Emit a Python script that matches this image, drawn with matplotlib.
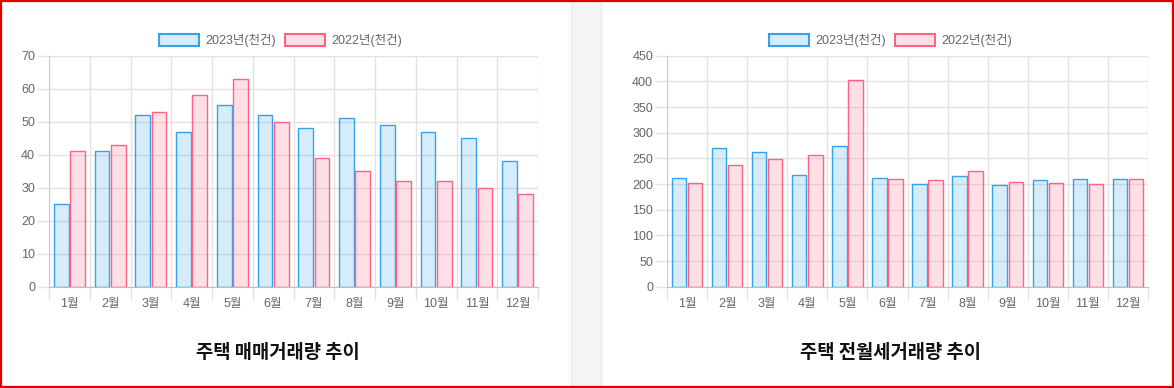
import matplotlib.pyplot as plt
from matplotlib.patches import Rectangle
import numpy as np

plt.rcParams['font.family'] = ['Liberation Sans', 'Noto Sans CJK KR', 'DejaVu Sans']

# --- data ---
months = ["1월", "2월", "3월", "4월", "5월", "6월", "7월", "8월", "9월", "10월", "11월", "12월"]
series_names = ["2023년(천건)", "2022년(천건)"]

sale_2023 = [25, 41, 52, 47, 55, 52, 48, 51, 49, 47, 45, 38]
sale_2022 = [41, 43, 53, 58, 63, 50, 39, 35, 32, 32, 30, 28]

rent_2023 = [212, 271, 262, 217, 274, 211, 201, 215, 199, 208, 209, 209]
rent_2022 = [202, 238, 248, 256, 402, 210, 208, 225, 203, 202, 201, 209]

titles = ["주택 매매거래량 추이", "주택 전월세거래량 추이"]

# --- style ---
blue_edge = "#36a2eb"
blue_fill = (54 / 255, 162 / 255, 235 / 255, 0.2)
pink_edge = "#ff6384"
pink_fill = (1.0, 99 / 255, 132 / 255, 0.2)
grid_c = "#e2e2e2"
tick_c = "#666666"

W, H = 1174, 388
fig = plt.figure(figsize=(W / 100, H / 100), dpi=100)
fig.patch.set_facecolor("white")


def fx(x):
    return x / W


def fy(y):
    return 1 - y / H


# gray strip between the panels
fig.patches.append(Rectangle((fx(571), 0), fx(30), 1, transform=fig.transFigure,
                             facecolor="#f4f4f4", edgecolor="#ececec", lw=1, zorder=0))
# red frame
fig.patches.append(Rectangle((0.0008, 0.0015), 0.998, 0.997, transform=fig.transFigure,
                             facecolor="none", edgecolor="#e00000", lw=1.6, zorder=10))

panels = [
    dict(x0=49, x1=538, ymax=70, step=10, a=sale_2023, b=sale_2022, title=titles[0], cx=278),
    dict(x0=667, x1=1148, ymax=450, step=50, a=rent_2023, b=rent_2022, title=titles[1], cx=891),
]

top, bottom = 55.7, 286.7
x = np.arange(len(months))
bw = 0.36

for p in panels:
    ax = fig.add_axes([fx(p["x0"]), fy(bottom), fx(p["x1"] - p["x0"]), (bottom - top) / H])
    ax.bar(x - 0.2, p["a"], bw, color=blue_fill, edgecolor=blue_edge, linewidth=1, zorder=3)
    ax.bar(x + 0.2, p["b"], bw, color=pink_fill, edgecolor=pink_edge, linewidth=1, zorder=3)

    ax.set_xlim(-0.5, len(months) - 0.5)
    ax.set_ylim(0, p["ymax"])
    ax.set_yticks(np.arange(0, p["ymax"] + 1, p["step"]))

    # category boundaries carry grid + tick marks, labels sit in the middle
    ax.set_xticks(np.arange(-0.5, len(months) - 0.4, 1.0))
    ax.set_xticklabels([])
    ax.set_xticks(x, minor=True)
    ax.set_xticklabels(months, minor=True)
    ax.tick_params(axis="x", which="major", length=9, color=grid_c, width=1)
    ax.tick_params(axis="x", which="minor", length=0, pad=8, labelsize=9, labelcolor=tick_c)
    ax.tick_params(axis="y", length=9, color=grid_c, width=1, pad=1, labelsize=9, labelcolor=tick_c)

    ax.grid(True, which="major", color=grid_c, lw=1, zorder=0)
    for s in ["top", "right"]:
        ax.spines[s].set_visible(False)
    ax.spines["left"].set_color("#cccccc")
    ax.spines["bottom"].set_color("#bfbfbf")

    # title under the chart
    fig.text(fx(p["cx"]), fy(352), p["title"], ha="center", va="center",
             fontsize=13.5, fontweight="bold", color="#111111",
             family=["Noto Sans CJK KR", "DejaVu Sans"])

# --- legends (drawn above each chart) ---
legend_pos = [(159, 285), (769, 895)]
for (b1, b2) in legend_pos:
    for bx, name, fc, ec in [(b1, series_names[0], blue_fill, blue_edge),
                             (b2, series_names[1], pink_fill, pink_edge)]:
        fig.patches.append(Rectangle((fx(bx), fy(46)), fx(40), 12 / H, transform=fig.transFigure,
                                     facecolor=fc, edgecolor=ec, lw=1.5))
        fig.text(fx(bx + 46), fy(40), name, ha="left", va="center", fontsize=9, color=tick_c)

fig.savefig("out.png", dpi=100)
plt.close(fig)
